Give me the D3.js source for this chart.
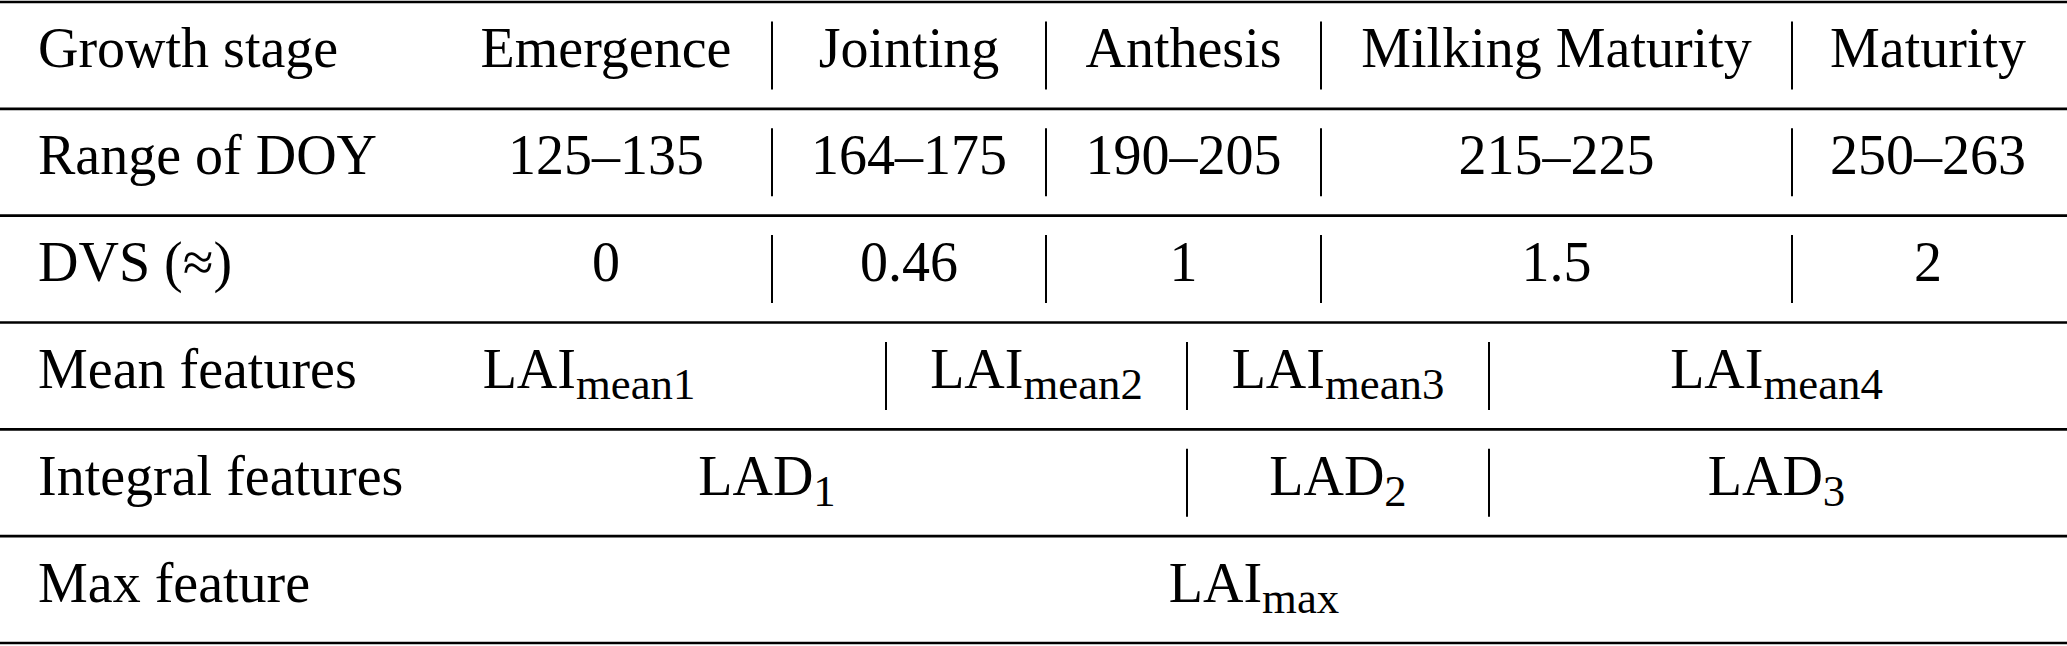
<!DOCTYPE html>
<html lang="en">

<head>
    <meta charset="utf-8">
    <title>growth stage table</title>
    <script src="https://cdn.jsdelivr.net/npm/d3@7"></script>
</head>
<style>
    body {
        margin: 0;
        background: #fff;
    }

    svg text {
        font-family: "Liberation Serif", "Times New Roman", serif;
        font-size: 56px;
        fill: #000;
    }
</style>

<body>
    <script>
        // table contents
        var rowLabels = ["Growth stage", "Range of DOY", "DVS (\u2248)", "Mean features", "Integral features", "Max feature"];
        var stages = ["Emergence", "Jointing", "Anthesis", "Milking Maturity", "Maturity"];
        var doyRanges = ["125\u2013135", "164\u2013175", "190\u2013205", "215\u2013225", "250\u2013263"];
        var dvsValues = ["0", "0.46", "1", "1.5", "2"];
        // [main text, subscript]
        var meanFeatures = [["LAI", "mean1"], ["LAI", "mean2"], ["LAI", "mean3"], ["LAI", "mean4"]];
        var integralFeatures = [["LAD", "1"], ["LAD", "2"], ["LAD", "3"]];
        var maxFeatures = [["LAI", "max"]];

        var width = 2067;
        var height = 646;

        var svg = d3.select("body")
            .append("svg")
            .attr("width", width)
            .attr("height", height);

        // rows
        var y = d3.scaleBand()
            .domain(rowLabels)
            .range([2, 643])
            .padding(0);

        // column edges (pixels) of the cells in each row
        var edge = { s: 440, e1: 772, m1: 886, e2: 1046, m2: 1187, e3: 1321, m3: 1489, e4: 1792, end: 2064 };
        var stageSpans = [[edge.s, edge.e1], [edge.e1, edge.e2], [edge.e2, edge.e3], [edge.e3, edge.e4], [edge.e4, edge.end]];
        var meanSpans = [[292, edge.m1], [edge.m1, edge.m2], [edge.m2, edge.m3], [edge.m3, edge.end]];
        var integralSpans = [[347, edge.m2], [edge.m2, edge.m3], [edge.m3, edge.end]];
        var maxSpans = [[444, edge.end]];

        var rows = [
            { label: rowLabels[0], cells: stages, spans: stageSpans },
            { label: rowLabels[1], cells: doyRanges, spans: stageSpans },
            { label: rowLabels[2], cells: dvsValues, spans: stageSpans },
            { label: rowLabels[3], cells: meanFeatures, spans: meanSpans },
            { label: rowLabels[4], cells: integralFeatures, spans: integralSpans },
            { label: rowLabels[5], cells: maxFeatures, spans: maxSpans }
        ];

        var rowH = y.bandwidth();
        var baseOff = rowH / 2 + 12;   // baseline below row top
        var subSize = 0.8;
        var subDrop = 11;

        // horizontal rules
        svg.selectAll("line.rule")
            .data(d3.range(rowLabels.length + 1))
            .enter()
            .append("line")
            .attr("class", "rule")
            .attr("x1", 0)
            .attr("x2", width)
            .attr("y1", function (i) { return i < rowLabels.length ? y(rowLabels[i]) : y(rowLabels[i - 1]) + rowH; })
            .attr("y2", function (i) { return i < rowLabels.length ? y(rowLabels[i]) : y(rowLabels[i - 1]) + rowH; })
            .attr("stroke", "#000")
            .attr("stroke-width", 2.6);

        var g = svg.selectAll("g.row")
            .data(rows)
            .enter()
            .append("g")
            .attr("class", "row")
            .attr("transform", function (d) { return "translate(0," + y(d.label) + ")"; });

        // row label
        g.append("text")
            .attr("x", 38)
            .attr("y", baseOff)
            .text(function (d) { return d.label; });

        // vertical separators between cells
        g.each(function (d) {
            var seps = d.spans.slice(1).map(function (s) { return s[0]; });
            d3.select(this).selectAll("line.sep")
                .data(seps)
                .enter()
                .append("line")
                .attr("class", "sep")
                .attr("x1", function (x) { return x; })
                .attr("x2", function (x) { return x; })
                .attr("y1", rowH / 2 - 34)
                .attr("y2", rowH / 2 + 34)
                .attr("stroke", "#000")
                .attr("stroke-width", 2);
        });

        // cell texts
        g.each(function (d) {
            var cells = d.cells.map(function (c, i) { return { c: c, span: d.spans[i] }; });
            var t = d3.select(this).selectAll("text.cell")
                .data(cells)
                .enter()
                .append("text")
                .attr("class", "cell")
                .attr("x", function (e) { return (e.span[0] + e.span[1]) / 2; })
                .attr("y", baseOff)
                .attr("text-anchor", "middle");
            t.each(function (e) {
                var el = d3.select(this);
                if (typeof e.c === "string") {
                    el.text(e.c);
                } else {
                    el.append("tspan").text(e.c[0]);
                    el.append("tspan")
                        .attr("dy", subDrop)
                        .style("font-size", (56 * subSize) + "px")
                        .text(e.c[1]);
                }
            });
        });
    </script>
</body>

</html>
